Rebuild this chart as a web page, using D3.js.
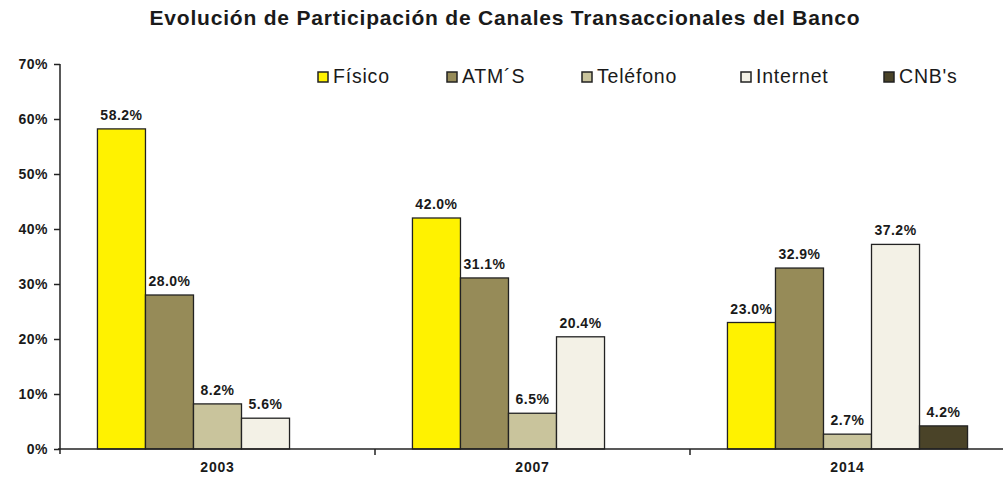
<!DOCTYPE html>
<html>
<head>
<meta charset="utf-8">
<script src="https://cdn.jsdelivr.net/npm/d3@7"></script>
<style>
  body { margin: 0; background: #fff; }
  text { font-family: "Liberation Sans", Arial, sans-serif; fill: #1a1a1a; }
</style>
</head>
<body>
<svg id="chart" width="1003" height="478"></svg>
<script>
// data
var years = ['2003', '2007', '2014'];
var series = ['Físico', 'ATM´S', 'Teléfono', 'Internet', "CNB's"];
var fisico   = [58.2, 42.0, 23.0];
var atm      = [28.0, 31.1, 32.9];
var telefono = [8.2, 6.5, 2.7];
var internet = [5.6, 20.4, 37.2];
var cnb      = [0, 0, 4.2];
var yTicks   = [0, 10, 20, 30, 40, 50, 60, 70];

var colors = ['#fff200', '#968b58', '#c9c49c', '#f3f1e6', '#4a4328'];
var values = [fisico, atm, telefono, internet, cnb];

var svg = d3.select('#chart');
var margin = {left: 60, right: 0, top: 64, bottom: 29};
var height = 478;

var x0 = d3.scaleBand().domain(years).range([margin.left, 1005]).paddingInner(0);
var x1 = d3.scaleBand().domain(series).range([0, x0.bandwidth()]).paddingOuter(0.78);
var y = d3.scaleLinear().domain([0, 70]).range([height - margin.bottom, margin.top]);

// title
svg.append('text')
    .attr('x', 505).attr('y', 25)
    .attr('text-anchor', 'middle')
    .style('font-size', '21px').style('font-weight', 'bold')
    .style('letter-spacing', '0.8px')
    .text('Evolución de Participación de Canales Transaccionales del Banco');

// bars
var groups = svg.selectAll('g.year')
    .data(years)
    .enter().append('g')
    .attr('class', 'year')
    .attr('transform', function (d) { return 'translate(' + x0(d) + ',0)'; });

groups.each(function (yr, i) {
    var g = d3.select(this);
    var rows = series.map(function (s, j) { return {s: s, v: values[j][i], c: colors[j]}; })
                     .filter(function (d) { return d.v > 0; });
    g.selectAll('rect').data(rows).enter().append('rect')
        .attr('x', function (d) { return x1(d.s); })
        .attr('y', function (d) { return y(d.v); })
        .attr('width', x1.bandwidth())
        .attr('height', function (d) { return y(0) - y(d.v); })
        .attr('fill', function (d) { return d.c; })
        .attr('stroke', '#222')
        .attr('stroke-width', 1.3);
    g.selectAll('text.val').data(rows).enter().append('text')
        .attr('class', 'val')
        .attr('x', function (d) { return x1(d.s) + x1.bandwidth() / 2; })
        .attr('y', function (d) { return y(d.v) - 9; })
        .attr('text-anchor', 'middle')
        .style('font-size', '14px').style('font-weight', 'bold')
        .style('letter-spacing', '0.5px')
        .text(function (d) { return d.v.toFixed(1) + '%'; });
});

// y axis
var yAxis = svg.append('g')
    .attr('transform', 'translate(' + margin.left + ',0)')
    .call(d3.axisLeft(y).tickValues(yTicks).tickSize(6).tickPadding(6)
        .tickFormat(function (d) { return d + '%'; }));
yAxis.select('.domain').attr('d', 'M0,' + y(70) + 'V' + (y(0) + 5)).attr('stroke', '#222').attr('stroke-width', 1.5);
yAxis.selectAll('.tick line').attr('stroke', '#222').attr('stroke-width', 1.5);
yAxis.selectAll('.tick text')
    .style('font-size', '14px').style('font-weight', 'bold').style('letter-spacing', '0.5px')
    .style('font-family', '"Liberation Sans", Arial, sans-serif').attr('fill', '#1a1a1a');

// x axis
var xAxis = svg.append('g')
    .attr('transform', 'translate(0,' + y(0) + ')');
xAxis.append('line')
    .attr('x1', margin.left - 2).attr('x2', 1003)
    .attr('stroke', '#222').attr('stroke-width', 1.5);
xAxis.selectAll('line.sep')
    .data(years.slice(1))
    .enter().append('line')
    .attr('class', 'sep')
    .attr('x1', function (d) { return x0(d); }).attr('x2', function (d) { return x0(d); })
    .attr('y1', 0).attr('y2', 6)
    .attr('stroke', '#222').attr('stroke-width', 1.5);
xAxis.selectAll('text')
    .data(years)
    .enter().append('text')
    .attr('x', function (d) { return x0(d) + x0.bandwidth() / 2; })
    .attr('y', 23)
    .attr('text-anchor', 'middle')
    .style('font-size', '14px').style('font-weight', 'bold').style('letter-spacing', '0.8px')
    .text(function (d) { return d; });

// legend
var legendX = [318, 447, 582, 741, 884];
var legend = svg.selectAll('g.legend')
    .data(series)
    .enter().append('g')
    .attr('class', 'legend')
    .attr('transform', function (d, i) { return 'translate(' + legendX[i] + ',72)'; });
legend.append('rect')
    .attr('width', 10).attr('height', 10)
    .attr('fill', function (d, i) { return colors[i]; })
    .attr('stroke', '#222').attr('stroke-width', 1.5);
legend.append('text')
    .attr('x', 15).attr('y', 11)
    .style('font-size', '19.5px').style('letter-spacing', '0.8px')
    .text(function (d) { return d; });
</script>
</body>
</html>
